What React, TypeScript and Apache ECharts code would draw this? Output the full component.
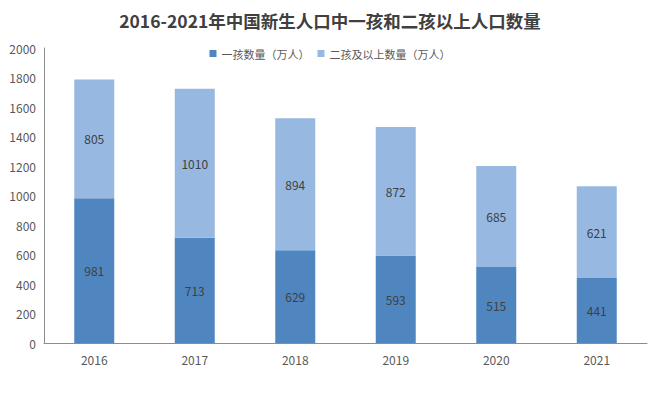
import React, { useEffect, useRef } from "react";
import * as echarts from "echarts";

const years = ["2016", "2017", "2018", "2019", "2020", "2021"];
const firstChild = [981, 713, 629, 593, 515, 441];
const secondPlus = [805, 1010, 894, 872, 685, 621];

export default function App() {
  const ref = useRef<HTMLDivElement>(null);
  useEffect(() => {
    const chart = echarts.init(ref.current!, null, { renderer: "svg" });
    const font = "'Noto Sans CJK SC', 'Microsoft YaHei', sans-serif";
    chart.setOption({
      animation: false,
      textStyle: { fontFamily: font },
      title: {
        text: "2016-2021年中国新生人口中一孩和二孩以上人口数量",
        left: "center",
        top: 7,
        textStyle: { fontSize: 17.5, fontWeight: "bold", color: "#404040", fontFamily: font },
      },
      legend: {
        top: 43,
        left: "center",
        itemWidth: 7,
        itemHeight: 7,
        itemGap: 8,
        icon: "rect",
        textStyle: { fontSize: 11, color: "#595959", fontFamily: font },
        data: ["一孩数量（万人）", "二孩及以上数量（万人）"],
      },
      grid: { left: 44, right: 13, top: 48, bottom: 62, containLabel: false },
      xAxis: {
        type: "category",
        data: years,
        axisLine: { lineStyle: { color: "#8c8c8c" } },
        axisTick: { show: false },
        axisLabel: { color: "#595959", fontSize: 12, margin: 10 },
      },
      yAxis: {
        type: "value",
        min: 0,
        max: 2000,
        interval: 200,
        axisLine: { show: true, lineStyle: { color: "#8c8c8c" } },
        axisTick: { show: false },
        splitLine: { show: false },
        axisLabel: { color: "#595959", fontSize: 12, margin: 8, formatter: (v: number) => String(v) },
      },
      series: [
        {
          name: "一孩数量（万人）",
          type: "bar",
          stack: "total",
          barWidth: 40,
          data: firstChild,
          itemStyle: { color: "#4F86BF" },
          label: { show: true, position: "inside", color: "#404040", fontSize: 12 },
        },
        {
          name: "二孩及以上数量（万人）",
          type: "bar",
          stack: "total",
          barWidth: 40,
          data: secondPlus,
          itemStyle: { color: "#96B8E1" },
          label: { show: true, position: "inside", color: "#404040", fontSize: 12 },
        },
      ],
    });
    return () => chart.dispose();
  }, []);
  return (
    <div
      ref={ref}
      style={{ position: "absolute", left: 0, top: 0, width: 660, height: 405 }}
    />
  );
}
